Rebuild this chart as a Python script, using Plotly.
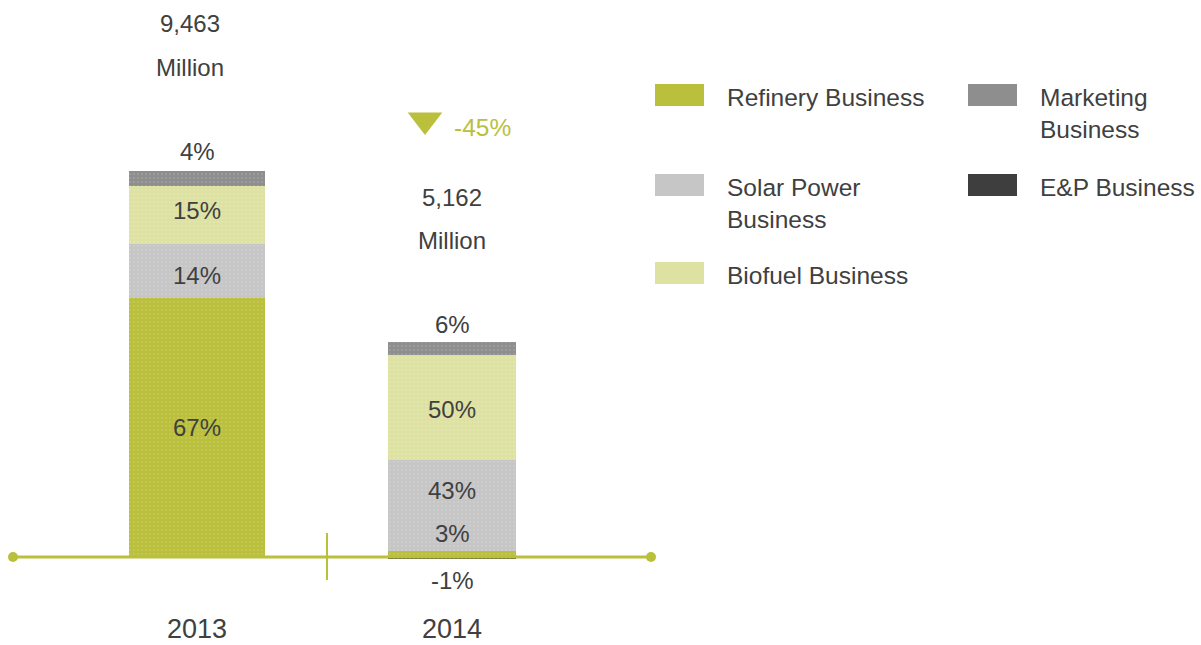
import plotly.graph_objects as go

# ---------------- data ----------------
years = ["2013", "2014"]
totals = [9463, 5162]              # million
change_label = "-45%"
series = ["Refinery Business", "Solar Power Business", "Biofuel Business",
          "Marketing Business", "E&P Business"]
refinery_pct = [67, 3]
solar_pct = [14, 43]
biofuel_pct = [15, 50]
marketing_pct = [4, 6]
ep_pct = [None, -1]

# ---------------- styles ----------------
colors = ["#BAC03C", "#C6C6C6", "#DDE2A2", "#8E8E8E", "#3E3E3E"]
TEXT = "#404040"
GREEN = "#BAC03C"
FONT = "Liberation Sans, Arial, sans-serif"
W, H = 1201, 645

# pixel -> data helpers (plot area covers the whole figure)
X0, XS = 197, 255.0
Y0, YS = 557, 24.5
def dx(px): return (px - X0) / XS
def dy(py): return (Y0 - py) * YS
def pxp(px): return px / W
def pyp(py): return 1 - py / H

pcts = [refinery_pct, solar_pct, biofuel_pct, marketing_pct, ep_pct]
xs = [0, 1]

fig = go.Figure()
for name, p, c in zip(series, pcts, colors):
    vals = [None if v is None else v / 100 * t for v, t in zip(p, totals)]
    fig.add_trace(go.Bar(
        x=xs, y=vals, name=name, width=[0.53, 0.5],
        marker=dict(color=c, line_width=0,
                    pattern=dict(shape=".", fgcolor="white", fgopacity=0.35,
                                 size=4, solidity=0.08)),
        showlegend=False, hoverinfo="skip"))

# ---------------- segment labels ----------------
placement = [
    [("mid", 0), ("top", -17)],     # refinery
    [("mid", 4), ("mid", -15)],     # solar
    [("mid", -5), ("mid", 2)],      # biofuel
    [("top", -19), ("top", -18)],   # marketing
    [None, ("bottom", 21)],         # E&P
]
for i in range(2):
    base_pos, base_neg = 0.0, 0.0
    for s, p in enumerate(pcts):
        v = p[i]
        if v is None:
            continue
        val = v / 100 * totals[i]
        if val >= 0:
            lo, hi = base_pos, base_pos + val
            base_pos = hi
        else:
            hi, lo = base_neg, base_neg + val
            base_neg = lo
        kind, off = placement[s][i]
        if kind == "mid":
            yv = (lo + hi) / 2 - off * YS
        elif kind == "top":
            yv = hi - off * YS
        else:
            yv = lo - off * YS
        fig.add_annotation(x=xs[i], y=yv, text=f"{v}%", showarrow=False,
                           font=dict(size=24, color=TEXT, family=FONT))

# ---------------- totals above bars ----------------
tot_pos = [(190, 23, 67), (452, 197, 240)]
for t, (px, py1, py2) in zip(totals, tot_pos):
    fig.add_annotation(x=dx(px), y=dy(py1), text=f"{t:,}", showarrow=False,
                       font=dict(size=24, color=TEXT, family=FONT))
    fig.add_annotation(x=dx(px), y=dy(py2), text="Million", showarrow=False,
                       font=dict(size=24, color=TEXT, family=FONT))

# change indicator
fig.add_trace(go.Scatter(x=[dx(425)], y=[dy(120)], mode="markers",
                         marker=dict(symbol="triangle-down", size=30, color=GREEN, line_width=0),
                         showlegend=False, hoverinfo="skip"))
fig.add_annotation(x=dx(452), y=dy(127), text=change_label, showarrow=False,
                   xanchor="left", font=dict(size=24.5, color=GREEN, family=FONT))

# year labels
for i, yr in enumerate(years):
    fig.add_annotation(x=xs[i], y=dy(H - 1), yanchor="bottom", text=yr, showarrow=False,
                       borderpad=0, borderwidth=0,
                       font=dict(size=27, color=TEXT, family=FONT))

# ---------------- baseline ----------------
shapes = [
    dict(type="line", xref="x", yref="y", x0=dx(13), x1=dx(651), y0=0, y1=0,
         line=dict(color=GREEN, width=3), layer="above"),
    dict(type="line", xref="x", yref="y", x0=dx(327), x1=dx(327), y0=dy(533), y1=dy(580),
         line=dict(color=GREEN, width=2)),
    dict(type="circle", xref="paper", yref="paper",
         x0=pxp(8), x1=pxp(18), y0=pyp(552), y1=pyp(562),
         fillcolor=GREEN, line_width=0),
    dict(type="circle", xref="paper", yref="paper",
         x0=pxp(646), x1=pxp(656), y0=pyp(552), y1=pyp(562),
         fillcolor=GREEN, line_width=0),
]

# ---------------- legend (manual, two columns) ----------------
legend_text = ["Refinery Business", "Solar Power<br>Business", "Biofuel Business",
               "Marketing<br>Business", "E&P Business"]
legend_pos = [(655, 95), (655, 185), (655, 273), (968, 95), (968, 185)]
for c, txt, (lx, ly) in zip(colors, legend_text, legend_pos):
    shapes.append(dict(type="rect", xref="paper", yref="paper",
                       x0=pxp(lx), x1=pxp(lx + 49), y0=pyp(ly - 11), y1=pyp(ly + 11),
                       fillcolor=c, line_width=0))
    fig.add_annotation(xref="paper", yref="paper", x=pxp(lx + 70), y=pyp(ly - 13),
                       xanchor="left", yanchor="top", align="left", text=txt,
                       showarrow=False,
                       font=dict(size=24.5, color=TEXT, family=FONT))

fig.update_layout(
    width=W, height=H, barmode="relative", bargap=0,
    margin=dict(l=0, r=0, t=0, b=0),
    paper_bgcolor="white", plot_bgcolor="white",
    xaxis=dict(range=[dx(0), dx(W)], visible=False, fixedrange=True),
    yaxis=dict(range=[dy(H), dy(0)], visible=False, fixedrange=True),
    shapes=shapes,
    font=dict(family=FONT, color=TEXT),
)
fig.write_html("out.html", config={"displayModeBar": False},
               post_script="document.body.style.margin='0px';document.body.style.overflow='hidden';")
